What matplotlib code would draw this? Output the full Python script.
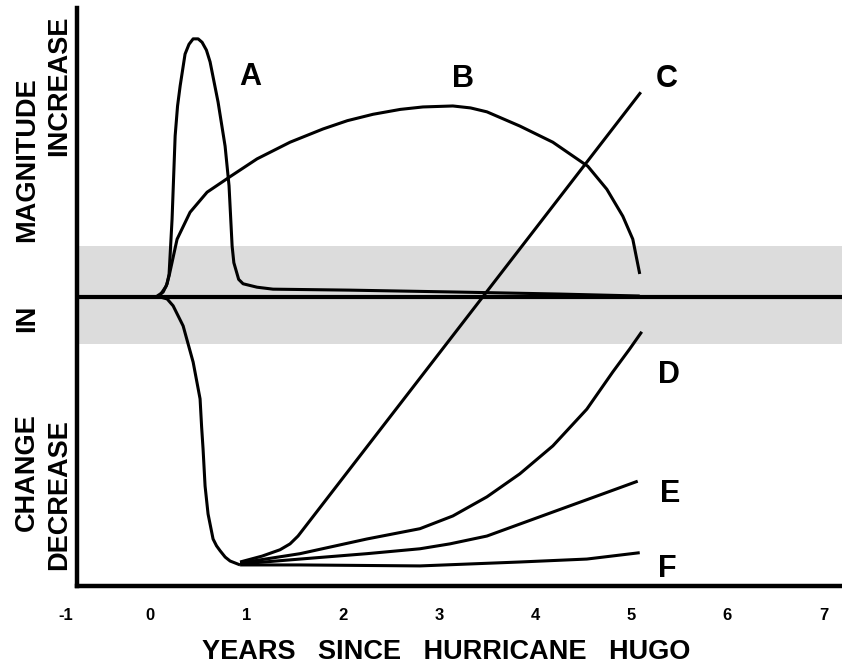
import matplotlib
matplotlib.use("Agg")
import matplotlib.pyplot as plt
import matplotlib.transforms as mtransforms

# ---- data (years since Hurricane Hugo, relative change in magnitude) ----
a_x = [0.073, 0.135, 0.177, 0.197, 0.228, 0.260, 0.285, 0.312, 0.363, 0.404, 0.447, 0.499,
       0.540, 0.585, 0.623, 0.706, 0.779, 0.820, 0.852, 0.870, 0.920, 0.966, 1.111, 1.277,
       2.077, 3.219, 4.258, 5.088]
a_y = [0.02, 0.10, 0.27, 0.47, 1.59, 3.29, 3.90, 4.31, 4.96, 5.16, 5.27, 5.27,
       5.20, 5.04, 4.80, 3.98, 3.08, 2.27, 1.04, 0.70, 0.36, 0.27, 0.20, 0.16,
       0.14, 0.10, 0.06, 0.02]

b_x = [0.104, 0.166, 0.197, 0.228, 0.280, 0.415, 0.592, 0.841, 1.111, 1.454, 1.796,
       2.050, 2.316, 2.600, 2.835, 3.146, 3.330, 3.500, 3.842, 4.185, 4.548, 4.746,
       4.912, 5.016, 5.088]
b_y = [0.04, 0.22, 0.43, 0.71, 1.18, 1.73, 2.14, 2.47, 2.82, 3.16, 3.43,
       3.60, 3.73, 3.83, 3.88, 3.90, 3.86, 3.78, 3.49, 3.16, 2.67, 2.20,
       1.65, 1.18, 0.47]

drop_x = [0.104, 0.177, 0.239, 0.343, 0.447, 0.519, 0.535, 0.550, 0.571, 0.602, 0.654,
          0.690, 0.727, 0.780, 0.831, 0.935]
drop_y = [0.00, -0.04, -0.18, -0.59, -1.33, -2.08, -2.65, -3.10, -3.86, -4.43, -4.94,
          -5.08, -5.18, -5.31, -5.39, -5.47]

c_x = [0.935, 1.163, 1.350, 1.454, 1.537, 5.099]
c_y = [-5.41, -5.29, -5.16, -5.04, -4.88, 4.18]

d_x = [0.935, 1.558, 2.253, 2.804, 3.146, 3.500, 3.842, 4.185, 4.538, 4.808, 4.984, 5.109]
d_y = [-5.43, -5.24, -4.94, -4.73, -4.47, -4.08, -3.61, -3.04, -2.29, -1.53, -1.06, -0.71]

e_x = [0.935, 1.558, 2.253, 2.804, 3.115, 3.500, 4.185, 4.704, 5.067]
e_y = [-5.45, -5.35, -5.24, -5.14, -5.04, -4.88, -4.39, -4.02, -3.76]

f_x = [0.935, 1.558, 2.804, 3.842, 4.538, 5.088]
f_y = [-5.47, -5.47, -5.49, -5.41, -5.35, -5.22]

curve_labels = ["A", "B", "C", "D", "E", "F"]
label_x = [1.04, 3.25, 5.37, 5.39, 5.40, 5.37]
label_y = [4.50, 4.45, 4.45, -1.59, -4.02, -5.55]

tick_vals = [-1, 0, 1, 2, 3, 4, 5, 6, 7]
tick_labels = ["-1", "0", "1", "2", "3", "4", "5", "6", "7"]

band_lo, band_hi = -0.96, 1.04

# ---- figure ----
plt.rcParams['font.family'] = ['Liberation Sans', 'DejaVu Sans']
fig = plt.figure(figsize=(8.42, 6.67), dpi=100)
ax = fig.add_axes([77 / 842, 1 - 586 / 667, 1 - 77 / 842, (586 - 8) / 667])
ax.set_xlim(-0.76, 7.19)
ax.set_ylim(-5.90, 5.90)

ax.axhspan(band_lo, band_hi, color="#dcdcdc", zorder=0, lw=0)
ax.axhline(0, color="black", lw=3.0, zorder=3)

lw = 2.2
for xs, ys in [(a_x, a_y), (b_x, b_y), (drop_x, drop_y), (c_x, c_y),
               (d_x, d_y), (e_x, e_y), (f_x, f_y)]:
    ax.plot(xs, ys, color="black", lw=lw, solid_capstyle="butt",
            solid_joinstyle="round", zorder=4)

for lab, lx, ly in zip(curve_labels, label_x, label_y):
    ax.text(lx, ly, lab, fontsize=22, fontweight="bold", ha="center", va="center",
            zorder=6)

for s in ["top", "right"]:
    ax.spines[s].set_visible(False)
for s in ["left", "bottom"]:
    ax.spines[s].set_linewidth(3.2)

ax.set_yticks([])
ax.set_xticks([])
# tick labels drawn below the axis (the "-1" sits a little right in the original)
tick_tf = mtransforms.blended_transform_factory(ax.transData, fig.transFigure)
for v, lab in zip(tick_vals, tick_labels):
    tf = tick_tf
    if v == -1:
        tf = tick_tf + mtransforms.ScaledTranslation(12 / 100, 0, fig.dpi_scale_trans)
    ax.text(v, 1 - 616 / 667, lab, transform=tf, fontsize=12, fontweight="bold",
            ha="center", va="center", clip_on=False)

fig.text(446 / 842, 1 - 652 / 667, "YEARS   SINCE   HURRICANE   HUGO",
         fontsize=19.5, fontweight="bold", ha="center", va="center")
for word, yc in [("CHANGE", 472), ("IN", 318), ("MAGNITUDE", 160)]:
    fig.text(27 / 842, 1 - yc / 667, word, fontsize=19.5, fontweight="bold",
             ha="center", va="center", rotation=90)
fig.text(59 / 842, 1 - 86 / 667, "INCREASE",
         fontsize=19.5, fontweight="bold", ha="center", va="center", rotation=90)
fig.text(59 / 842, 1 - 495 / 667, "DECREASE",
         fontsize=19.5, fontweight="bold", ha="center", va="center", rotation=90)

fig.savefig("out.png", dpi=100)
